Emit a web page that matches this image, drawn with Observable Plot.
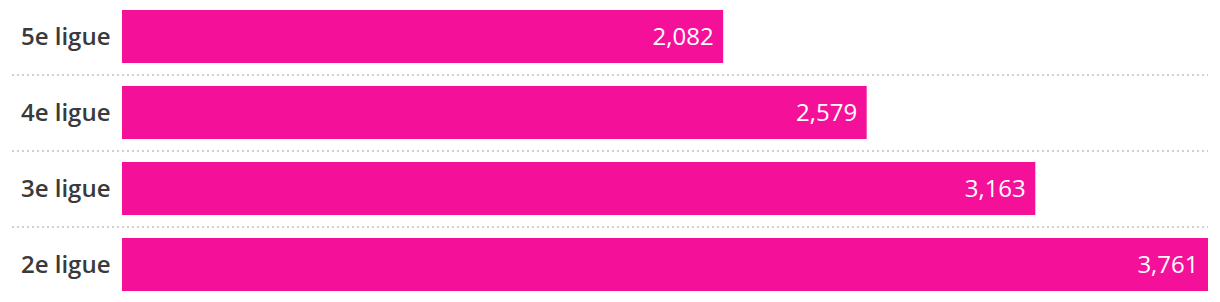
<!DOCTYPE html>
<html>
<head>
<meta charset="utf-8">
<script src="https://cdn.jsdelivr.net/npm/d3@7"></script>
<script src="https://cdn.jsdelivr.net/npm/@observablehq/plot@0.6"></script>
<style>
  html, body { margin: 0; padding: 0; background: #fff; }
  #chart svg { display: block; }
</style>
</head>
<body>
<div id="chart"></div>
<script>
const categories = ["5e ligue", "4e ligue", "3e ligue", "2e ligue"];
const values = [2082, 2579, 3163, 3761];

const data = categories.map((c, i) => ({category: c, value: values[i]}));
const fmt = d3.format(",");
const pink = "#f5109a";

const chart = Plot.plot({
  width: 1220,
  height: 302,
  marginLeft: 122,
  marginRight: 12,
  marginTop: -1.5,
  marginBottom: -0.5,
  style: {fontFamily: "'Open Sans', sans-serif", background: "#fff"},
  x: {domain: [0, d3.max(values)], axis: null},
  y: {domain: categories, paddingInner: 0.3, paddingOuter: 0.15, label: null},
  marks: [
    Plot.ruleY(categories.slice(0, -1), {
      y: d => d, dy: 38, stroke: "#d0d0d0", strokeWidth: 2,
      strokeDasharray: "2,3", insetLeft: -110
    }),
    Plot.barX(data, {x: "value", y: "category", fill: pink}),
    Plot.text(data, {
      x: "value", y: "category", text: d => fmt(d.value),
      textAnchor: "end", dx: -10, fill: "#fff", fontSize: 24
    }),
    Plot.axisY({
      tickSize: 0, tickPadding: 12, fontSize: 24, fontWeight: 600,
      fill: "#3a3a3a", label: null
    })
  ]
});
document.getElementById("chart").appendChild(chart);
</script>
</body>
</html>
